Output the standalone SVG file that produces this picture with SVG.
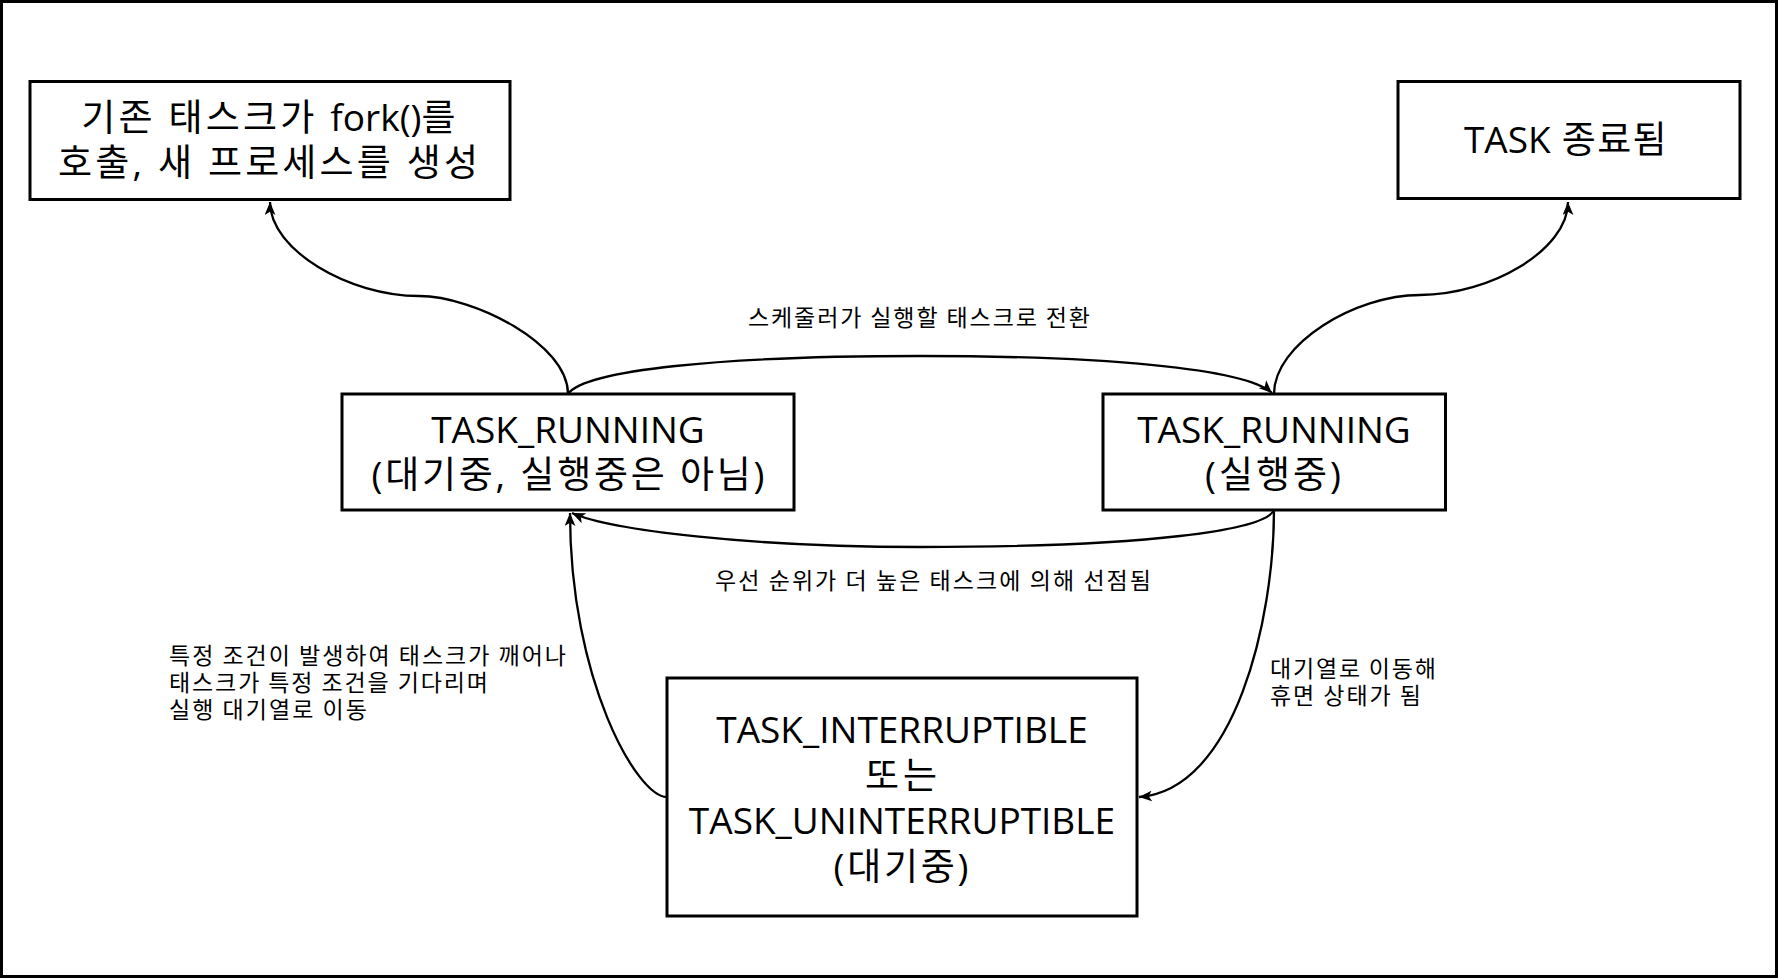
<svg xmlns="http://www.w3.org/2000/svg" width="1779" height="979" viewBox="0 0 1779 979">
<style>
.box{fill:#fff;stroke:#000;stroke-width:3}
.t{font-family:"Open Sans","Noto Sans CJK KR",sans-serif;font-size:37px;fill:#000;text-anchor:middle}
.l{font-family:"Noto Sans CJK KR","Open Sans",sans-serif;font-size:23px;fill:#000}
.e{fill:none;stroke:#000;stroke-width:2.3;marker-end:url(#arr)}
</style>
<defs>
<marker id="arr" viewBox="0 0 12 10" refX="12" refY="5" markerWidth="13" markerHeight="11" markerUnits="userSpaceOnUse" orient="auto">
<path d="M0,0 L12,5 L0,10 L3,5 Z" fill="#000"/>
</marker>
</defs>
<rect x="0" y="0" width="1779" height="979" fill="#fff"/>
<rect x="1.5" y="1.5" width="1775" height="975" fill="none" stroke="#000" stroke-width="3"/>
<g id="edges">
<path class="e" d="M568,394 C568,344 474,296 419,296 C349,296 270,250 270,202"/>
<path class="e" d="M1274,394 C1274,344 1355,295 1420,295 C1490,295 1568,250 1568,202"/>
<path class="e" d="M568,394 C585,370 720,356 920,356 C1100,356 1245,368 1272,393"/>
<path class="e" d="M1274,510 C1265,530 1150,547 920,547 C750,547 610,530 572,513"/>
<path class="e" d="M667,797 C637,797 570,680 570,513"/>
<path class="e" d="M1274,510 C1274,620 1235,790 1139,797"/>
</g>
<g id="labels">
<text class="l" x="919" y="325.5" text-anchor="middle" textLength="342" lengthAdjust="spacing">스케줄러가 실행할 태스크로 전환</text>
<text class="l" x="933" y="588.5" text-anchor="middle" textLength="436" lengthAdjust="spacing">우선 순위가 더 높은 태스크에 의해 선점됨</text>
<text class="l" x="169" y="663.5" textLength="397" lengthAdjust="spacing">특정 조건이 발생하여 태스크가 깨어나</text>
<text class="l" x="169" y="691" textLength="319" lengthAdjust="spacing">태스크가 특정 조건을 기다리며</text>
<text class="l" x="169" y="718" textLength="198" lengthAdjust="spacing">실행 대기열로 이동</text>
<text class="l" x="1270" y="677" textLength="166" lengthAdjust="spacing">대기열로 이동해</text>
<text class="l" x="1270" y="704" textLength="151" lengthAdjust="spacing">휴면 상태가 됨</text>
</g>
<g id="fork">
<rect class="box" x="30" y="81.5" width="480" height="118"/>
<text class="t" x="270" y="131"><tspan letter-spacing="3.2">기존 태스크가 </tspan>fork()<tspan letter-spacing="3.2">를</tspan></text>
<text class="t" x="268" y="176" textLength="420" lengthAdjust="spacing">호출, 새 프로세스를 생성</text>
</g>
<g id="exit">
<rect class="box" x="1398" y="81.5" width="342" height="117"/>
<text class="t" x="1566" y="153">TASK<tspan letter-spacing="1.4"> 종료됨</tspan></text>
</g>
<g id="ready">
<rect class="box" x="342" y="394" width="452" height="116"/>
<text class="t" x="568" y="443">TASK_RUNNING</text>
<text class="t" x="568" y="488" textLength="393" lengthAdjust="spacing">(대기중, 실행중은 아님)</text>
</g>
<g id="running">
<rect class="box" x="1103" y="394" width="342.5" height="116"/>
<text class="t" x="1274" y="443">TASK_RUNNING</text>
<text class="t" x="1273" y="488" textLength="136" lengthAdjust="spacing">(실행중)</text>
</g>
<g id="waiting">
<rect class="box" x="667" y="678" width="470" height="238"/>
<text class="t" x="902" y="743">TASK_INTERRUPTIBLE</text>
<text class="t" x="901" y="788.5" textLength="72" lengthAdjust="spacing">또는</text>
<text class="t" x="902" y="834">TASK_UNINTERRUPTIBLE</text>
<text class="t" x="901" y="879.5" textLength="135" lengthAdjust="spacing">(대기중)</text>
</g>
</svg>
